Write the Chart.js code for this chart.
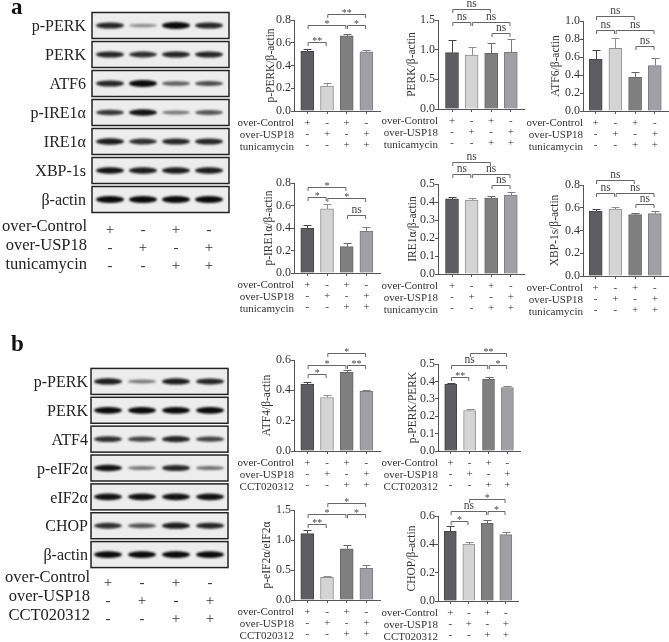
<!DOCTYPE html>
<html>
<head>
<meta charset="utf-8">
<script src="https://cdn.jsdelivr.net/npm/chart.js@4/dist/chart.umd.min.js"></script>
<style>
  html, body { margin: 0; padding: 0; background: #fff; }
  #fig { position: relative; width: 669px; height: 642px; overflow: hidden; }
  #fig canvas { position: absolute; filter: blur(0.35px); }
  .letter { position: absolute; font: bold 23px "Liberation Serif"; color: #111; will-change: transform; }
</style>
</head>
<body>
<div id="fig">
  <div class="letter" style="left:11px;top:-6px">a</div>
  <div class="letter" style="left:11px;top:331px">b</div>
</div>
<script>
const serif = '"Liberation Serif"';
const lanes = [0, 1, 2, 3];
const rowsTunicamycin = ['over-Control', 'over-USP18', 'tunicamycin'];
const rowsCct = ['over-Control', 'over-USP18', 'CCT020312'];
const signs = [['+', '-', '+', '-'], ['-', '+', '-', '+'], ['-', '-', '+', '+']];

const barFill = ['#5e5e60', '#d4d4d4', '#7f7f7f', '#a0a0a4'];
const barEdge = ['#454545', '#8f8f8f', '#666666', '#7d7d80'];

// bar values and upper error
const pPerkVals = [0.525, 0.22, 0.66, 0.52];
const pPerkErrs = [0.02, 0.023, 0.017, 0.016];
const perkVals = [0.95, 0.91, 0.94, 0.955];
const perkErrs = [0.22, 0.14, 0.17, 0.22];
const atf6Vals = [0.575, 0.695, 0.375, 0.505];
const atf6Errs = [0.107, 0.12, 0.06, 0.08];
const pIreVals = [0.4, 0.57, 0.235, 0.37];
const pIreErrs = [0.024, 0.04, 0.03, 0.04];
const ireVals = [0.417, 0.411, 0.422, 0.439];
const ireErrs = [0.009, 0.009, 0.011, 0.018];
const xbpVals = [0.571, 0.589, 0.539, 0.548];
const xbpErrs = [0.018, 0.018, 0.015, 0.021];
const atf4Vals = [0.441, 0.353, 0.518, 0.393];
const atf4Errs = [0.016, 0.014, 0.016, 0.006];
const pPerkRatioVals = [0.385, 0.233, 0.412, 0.365];
const pPerkRatioErrs = [0.007, 0.011, 0.011, 0.01];
const pEifVals = [1.107, 0.376, 0.852, 0.526];
const pEifErrs = [0.061, 0.028, 0.062, 0.061];
const chopVals = [0.492, 0.401, 0.548, 0.469];
const chopErrs = [0.035, 0.016, 0.021, 0.016];

// significance brackets: from lane, to lane, level on the y axis, label
const pPerkSig = [[1, 3, 0.85, '**'], [0, 2, 0.753, '*'], [2, 3, 0.753, '*'], [0, 1, 0.604, '**']];
const perkSig = [[0, 2, 1.685, 'ns'], [0, 1, 1.466, 'ns'], [1, 3, 1.466, 'ns'], [2, 3, 1.28, 'ns']];
const atf6Sig = [[0, 2, 1.054, 'ns'], [0, 1, 0.904, 'ns'], [1, 3, 0.904, 'ns'], [2, 3, 0.717, 'ns']];
const pIreSig = [[0, 2, 0.764, '*'], [0, 1, 0.672, '*'], [1, 3, 0.669, '*'], [2, 3, 0.518, 'ns']];
const ireSig = [[0, 2, 0.624, 'ns'], [0, 1, 0.554, 'ns'], [1, 3, 0.554, 'ns'], [2, 3, 0.494, 'ns']];
const xbpSig = [[0, 2, 0.847, 'ns'], [0, 1, 0.73, 'ns'], [1, 3, 0.73, 'ns'], [2, 3, 0.633, 'ns']];
const atf4Sig = [[1, 3, 0.644, '*'], [0, 2, 0.567, '*'], [2, 3, 0.567, '**'], [0, 1, 0.505, '*']];
const pPerkRatioSig = [[1, 3, 0.565, '**'], [0, 2, 0.494, 'ns'], [2, 3, 0.494, '*'], [0, 1, 0.423, '**']];
const pEifSig = [[1, 3, 1.61, '*'], [0, 2, 1.428, '*'], [2, 3, 1.428, '*'], [0, 1, 1.262, '**']];
const chopSig = [[1, 3, 0.722, '*'], [0, 2, 0.635, 'ns'], [2, 3, 0.635, '*'], [0, 1, 0.563, '*']];

// blot rows and how dark each band looks (0-1)
const blotRowsA = ['p-PERK', 'PERK', 'ATF6', 'p-IRE1α', 'IRE1α', 'XBP-1s', 'β-actin'];
const bandsA = [
  [0.85, 0.3, 1, 0.85],
  [0.85, 0.8, 0.85, 0.85],
  [0.85, 1, 0.55, 0.65],
  [0.75, 0.95, 0.4, 0.6],
  [0.9, 0.8, 0.85, 0.85],
  [0.95, 0.9, 0.9, 0.9],
  [1, 1, 1, 1]
];
const blotRowsB = ['p-PERK', 'PERK', 'ATF4', 'p-eIF2α', 'eIF2α', 'CHOP', 'β-actin'];
const bandsB = [
  [0.9, 0.4, 0.9, 0.85],
  [1, 1, 1, 1],
  [0.8, 0.7, 0.85, 0.7],
  [0.95, 0.4, 0.85, 0.45],
  [0.95, 0.95, 0.95, 0.95],
  [0.8, 0.6, 0.9, 0.85],
  [1, 1, 1, 1]
];

function addCanvas(left, top, w, h) {
  const c = document.createElement('canvas');
  c.style.left = left + 'px';
  c.style.top = top + 'px';
  c.width = w;
  c.height = h;
  document.getElementById('fig').appendChild(c);
  return c;
}

function signTicks(v) {
  if (!Number.isInteger(v) || v < 0 || v > 3) return null;
  return signs.map(r => r[v]);
}

// error bars, brackets and the row names under the axis
function overlay(p) {
  return {
    id: 'overlay',
    afterDatasetsDraw(chart) {
      const ctx = chart.ctx, x = chart.scales.x, y = chart.scales.y;
      ctx.save();
      ctx.lineWidth = 1;
      p.vals.forEach((v, i) => {
        const px = Math.round(x.getPixelForValue(i)) + 0.5;
        const y1 = y.getPixelForValue(v), y2 = Math.round(y.getPixelForValue(v + p.errs[i])) + 0.5;
        ctx.strokeStyle = barEdge[i];
        ctx.beginPath();
        ctx.moveTo(px, y1);
        ctx.lineTo(px, y2);
        ctx.moveTo(px - 4, y2);
        ctx.lineTo(px + 4, y2);
        ctx.stroke();
      });
      p.sig.forEach(s => {
        const a = x.getPixelForValue(s[0]) + 0.8, b = x.getPixelForValue(s[1]) - 0.8;
        const ly = Math.round(y.getPixelForValue(s[2])) + 0.5;
        ctx.strokeStyle = '#666';
        ctx.beginPath();
        ctx.moveTo(a, ly + 3.5);
        ctx.lineTo(a, ly);
        ctx.lineTo(b, ly);
        ctx.lineTo(b, ly + 3.5);
        ctx.stroke();
        ctx.fillStyle = '#444';
        ctx.textAlign = 'center';
        ctx.textBaseline = 'alphabetic';
        if (s[3] === 'ns') {
          ctx.font = '11.5px ' + serif;
          ctx.fillText(s[3], (a + b) / 2, ly - 2.5);
        } else {
          ctx.font = '10px ' + serif;
          ctx.fillText(s[3], (a + b) / 2, ly + 1.5);
        }
      });
      ctx.fillStyle = '#333';
      ctx.font = '11px ' + serif;
      ctx.textAlign = 'right';
      ctx.textBaseline = 'middle';
      p.rows.forEach((name, i) => {
        ctx.fillText(name, x.left, chart.chartArea.bottom + 12.5 + i * 12);
      });
      ctx.restore();
    }
  };
}

function barPanel(p) {
  const left = p.x0 - 60, top = Math.max(p.top - 30, 0);
  const w = Math.min(p.xEnd + 1, 669) - left, h = p.bottom - top + 46;
  const yWidth = p.x0 - p.titleX + 5.5;
  new Chart(addCanvas(left, top, w, h), {
    type: 'bar',
    data: {
      datasets: [{
        data: lanes.map(i => ({ x: i, y: p.vals[i] })),
        backgroundColor: barFill,
        borderColor: barEdge,
        borderWidth: 1,
        barThickness: p.barW
      }]
    },
    options: {
      responsive: false,
      animation: false,
      devicePixelRatio: 1,
      layout: { padding: { top: p.top - top, left: p.x0 - left - yWidth, right: w + left - p.xEnd, bottom: 0 } },
      plugins: { legend: { display: false }, tooltip: { enabled: false } },
      scales: {
        x: {
          type: 'linear',
          offset: false,
          min: (p.x0 - p.c0) / p.sp,
          max: (p.xEnd - p.c0) / p.sp,
          border: { color: '#555', width: 1 },
          grid: { offset: false, drawOnChartArea: false, drawTicks: true, tickLength: 3, color: '#555' },
          ticks: {
            stepSize: 1, includeBounds: false, autoSkip: false, maxRotation: 0, padding: 3,
            color: '#333', font: { family: serif, size: 11, lineHeight: '11.4px' },
            callback: signTicks
          },
          afterFit: s => { s.height = 46; }
        },
        y: {
          min: 0,
          max: p.max,
          border: { color: '#555', width: 1 },
          grid: { drawOnChartArea: false, drawTicks: true, tickLength: 3, color: '#555' },
          title: { display: true, text: p.title, color: '#333', padding: 0, font: { family: serif, size: 11.5, lineHeight: 1 } },
          ticks: {
            stepSize: p.step, padding: 0, color: '#333', font: { family: serif, size: 12 },
            callback: v => v.toFixed(1)
          },
          afterFit: s => { s.width = yWidth; }
        }
      }
    },
    plugins: [overlay(p)]
  });
}

const barRowsA = rowsTunicamycin, barRowsB = rowsCct;
[
  { title: 'p-PERK/β-actin', vals: pPerkVals, errs: pPerkErrs, sig: pPerkSig, rows: barRowsA, x0: 294, xEnd: 380, c0: 307.3, sp: 19.7, barW: 13, top: 20, bottom: 111, max: 0.8, step: 0.2, titleX: 271 },
  { title: 'PERK/β-actin', vals: perkVals, errs: perkErrs, sig: perkSig, rows: barRowsA, x0: 438, xEnd: 524, c0: 452, sp: 19.6, barW: 13, top: 20, bottom: 109, max: 1.5, step: 0.5, titleX: 412 },
  { title: 'ATF6/β-actin', vals: atf6Vals, errs: atf6Errs, sig: atf6Sig, rows: barRowsA, x0: 583, xEnd: 668, c0: 595.7, sp: 19.7, barW: 13, top: 21, bottom: 111, max: 1, step: 0.2, titleX: 556 },
  { title: 'p-IRE1α/β-actin', vals: pIreVals, errs: pIreErrs, sig: pIreSig, rows: barRowsA, x0: 294, xEnd: 380, c0: 307.3, sp: 19.7, barW: 13, top: 183, bottom: 273, max: 0.8, step: 0.2, titleX: 269 },
  { title: 'IRE1α/β-actin', vals: ireVals, errs: ireErrs, sig: ireSig, rows: barRowsA, x0: 438, xEnd: 524, c0: 452, sp: 19.6, barW: 13, top: 184, bottom: 274, max: 0.5, step: 0.1, titleX: 413 },
  { title: 'XBP-1s/β-actin', vals: xbpVals, errs: xbpErrs, sig: xbpSig, rows: barRowsA, x0: 583, xEnd: 668, c0: 595.7, sp: 19.7, barW: 13, top: 185, bottom: 276, max: 0.8, step: 0.2, titleX: 555 },
  { title: 'ATF4/β-actin', vals: atf4Vals, errs: atf4Errs, sig: atf4Sig, rows: barRowsB, x0: 294, xEnd: 380, c0: 307.3, sp: 19.7, barW: 13, top: 360, bottom: 451, max: 0.6, step: 0.2, titleX: 267 },
  { title: 'p-PERK/PERK', vals: pPerkRatioVals, errs: pPerkRatioErrs, sig: pPerkRatioSig, rows: barRowsB, x0: 438, xEnd: 520, c0: 450.7, sp: 18.9, barW: 12, top: 364, bottom: 451, max: 0.5, step: 0.1, titleX: 413 },
  { title: 'p-eIF2α/eIF2α', vals: pEifVals, errs: pEifErrs, sig: pEifSig, rows: barRowsB, x0: 294, xEnd: 380, c0: 307.3, sp: 19.7, barW: 13, top: 510, bottom: 600, max: 1.5, step: 0.5, titleX: 267 },
  { title: 'CHOP/β-actin', vals: chopVals, errs: chopErrs, sig: chopSig, rows: barRowsB, x0: 438, xEnd: 518, c0: 450.3, sp: 18.5, barW: 12, top: 516, bottom: 601, max: 0.6, step: 0.2, titleX: 412 }
].forEach(barPanel);

// western blot strips: frames and bands placed by the chart's own scales
function blotPlugin(b) {
  return {
    id: 'blots',
    afterDraw(chart) {
      const ctx = chart.ctx, x = chart.scales.x, y = chart.scales.y;
      ctx.save();
      b.rowNames.forEach((name, r) => {
        const cy = y.getPixelForValue(r), ft = cy - 13, fh = 26, fl = x.left, fw = x.width;
        ctx.fillStyle = '#ededed';
        ctx.fillRect(fl, ft, fw, fh);
        ctx.save();
        ctx.beginPath();
        ctx.rect(fl, ft, fw, fh);
        ctx.clip();
        ctx.filter = 'blur(0.9px)';
        b.bands[r].forEach((d, l) => {
          const shade = Math.round(195 - 185 * d);
          ctx.fillStyle = 'rgb(' + shade + ',' + shade + ',' + shade + ')';
          ctx.beginPath();
          ctx.ellipse(x.getPixelForValue(l), cy, 14, 1 + 2.4 * d, 0, 0, 2 * Math.PI);
          ctx.fill();
        });
        ctx.restore();
        ctx.strokeStyle = '#222';
        ctx.lineWidth = 1.5;
        ctx.strokeRect(fl, ft, fw, fh);
      });
      ctx.fillStyle = '#222';
      ctx.font = '16.5px ' + serif;
      ctx.textAlign = 'right';
      ctx.textBaseline = 'middle';
      b.rows.forEach((name, i) => {
        ctx.fillText(name, x.left - b.rowGap, chart.chartArea.bottom + b.rowStart + i * 19);
      });
      ctx.restore();
    }
  };
}

function blotPanel(b) {
  const pad = 20, h = b.bottom - b.top + 70 + pad;
  new Chart(addCanvas(0, b.top - pad, b.right + 4, h), {
    type: 'bar',
    data: { labels: b.rowNames, datasets: [{ data: [] }] },
    options: {
      responsive: false,
      animation: false,
      devicePixelRatio: 1,
      layout: { padding: { top: pad, left: b.left - 90, right: 4 } },
      plugins: { legend: { display: false }, tooltip: { enabled: false } },
      scales: {
        x: {
          type: 'linear',
          offset: false,
          min: (b.left - b.c0) / b.sp,
          max: (b.right - b.c0) / b.sp,
          border: { display: false },
          grid: { offset: false, display: false, drawTicks: false },
          ticks: {
            stepSize: 1, includeBounds: false, autoSkip: false, maxRotation: 0, padding: b.signPad,
            color: '#333', font: { family: serif, size: 15, lineHeight: '18px' },
            callback: signTicks
          },
          afterFit: s => { s.height = 70; }
        },
        y: {
          type: 'category',
          offset: true,
          labels: b.rowNames,
          border: { display: false },
          grid: { display: false, drawTicks: false },
          ticks: { padding: b.labelPad, labelOffset: 1.5, color: '#222', font: { family: serif, size: 16 } },
          afterFit: s => { s.width = 90; }
        }
      }
    },
    plugins: [blotPlugin(b)]
  });
}

blotPanel({ rowNames: blotRowsA, bands: bandsA, rows: rowsTunicamycin, left: 92, right: 229, c0: 110, sp: 33, top: 11, bottom: 214, signPad: 7, labelPad: 6, rowStart: 13, rowGap: 5 });
blotPanel({ rowNames: blotRowsB, bands: bandsB, rows: rowsCct, left: 91, right: 228, c0: 108, sp: 34, top: 367, bottom: 569, signPad: 5, labelPad: 3, rowStart: 9, rowGap: 1 });
</script>
</body>
</html>
